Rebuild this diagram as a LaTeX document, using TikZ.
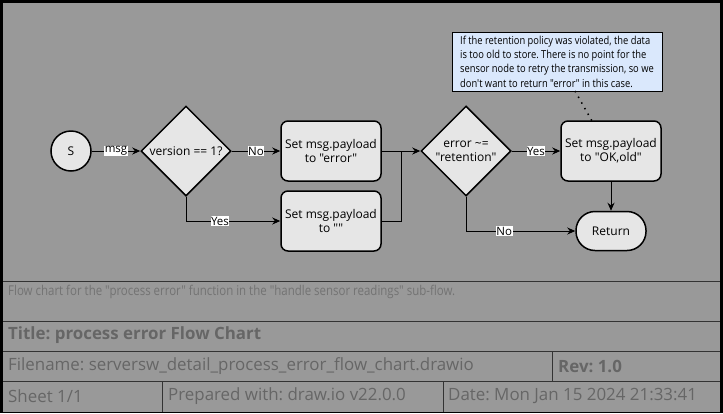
\documentclass[tikz,border=0pt]{standalone}
\usepackage{fontspec}
\setmainfont{Open Sans}[Ligatures=TeXOff]
\newfontfamily\notefont{Open Sans}[Ligatures=TeXOff, FakeStretch=0.85]
\usetikzlibrary{shapes.geometric,arrows.meta}
\definecolor{pagegray}{HTML}{999999}
\definecolor{boxgray}{HTML}{E6E6E6}
\definecolor{notebg}{HTML}{DAE8FC}
\definecolor{framegray}{HTML}{333333}
\definecolor{infogray}{HTML}{666666}
\definecolor{descgray}{HTML}{737373}
\begin{document}
\frenchspacing
\begin{tikzpicture}[x=1pt, y=-1pt,
    every node/.style={font=\fontsize{12}{14.4}\selectfont},
    box/.style={draw, line width=1.5pt, fill=boxgray, rounded corners=7pt,
      minimum width=100pt, minimum height=60pt, align=center, inner sep=0pt},
    decision/.style={draw, diamond, line width=1.5pt, fill=boxgray,
      minimum width=90pt, minimum height=90pt, inner sep=0pt},
    edge/.style={-{Stealth[length=8pt,width=7pt]}, line width=1pt},
    elabel/.style={fill=white, inner sep=0.5pt, font=\fontsize{11.5}{12}\selectfont},
    info/.style={anchor=west, text=infogray, inner sep=0pt, font=\fontsize{16.9}{19}\selectfont}]
  \useasboundingbox (0,0) rectangle (723,413);
  % page and frame
  \fill (0,0) rectangle (723,413);
  \fill[pagegray] (3,3) rectangle (720,411.5);

  % flow chart
  \node[draw, circle, line width=1.5pt, fill=boxgray, minimum size=40pt, inner sep=0pt] (start) at (71,151) {S};
  \node[decision, label={[align=center]center:version == 1?}] (vercheck) at (186,151) {};
  \node[box] (seterr) at (331,151) {Set msg.payload\\to "error"};
  \node[box] (setempty) at (331,221) {Set msg.payload\\to ""};
  \node[decision, label={[align=center]center:error \textasciitilde=\\"retention"}] (retcheck) at (466,151) {};
  \node[box] (setold) at (611,151) {Set msg.payload\\to "OK,old"};
  \node[draw, line width=1.5pt, fill=boxgray, rounded corners=19pt, minimum width=70pt, minimum height=39pt] (ret) at (611,231) {Return};
  \node[draw, fill=notebg, line width=0.8pt, minimum width=210pt, minimum height=59pt, inner sep=2pt,
    align=left, font=\notefont\fontsize{11}{14.4}\selectfont] (note) at (557,61.5)
    {If the retention policy was violated, the data\\is too old to store. There is no point for the\\sensor node to retry the transmission, so we\\don't want to return "error" in this case.};
  \coordinate (join) at (401,151);
  \coordinate (notefoot) at (575,91);
  \coordinate (oldtop) at (592,121);

  \draw[edge] (start) -- node[elabel] {msg} (vercheck);
  \draw[edge] (vercheck) -- node[elabel] {No} (seterr);
  \draw[edge] (vercheck.south) |- node[elabel, pos=0.68] {Yes} (setempty);
  \draw[edge] (seterr) -- (retcheck);
  \draw[line width=1pt] (setempty.east) -| (join);
  \draw[edge] (retcheck) -- node[elabel] {Yes} (setold);
  \draw[edge] (retcheck.south) |- node[elabel, pos=0.675] {No} (ret);
  \draw[edge] (setold) -- (ret);
  \draw[line width=1.5pt, dash pattern=on 1.5pt off 5pt] (notefoot) -- (oldtop);

  % title block
  \draw[framegray, line width=1pt] (3,281.5) -- (720,281.5) (3,321.5) -- (720,321.5)
    (3,351) -- (720,351) (3,381) -- (720,381)
    (552,351) -- (552,381) (162,381) -- (162,411.5) (443,381) -- (443,411.5);
  \node[info, text=descgray, font=\notefont\fontsize{13.5}{15}\selectfont] (desc) at (8,292)
    {Flow chart for the "process error" function in the "handle sensor readings" sub-flow.};
  \node[info, font=\bfseries\fontsize{16.9}{19}\selectfont] (title) at (8,335) {Title: process error Flow Chart};
  \node[info] (fname) at (8,366) {Filename: serversw\_detail\_process\_error\_flow\_chart.drawio};
  \node[info, font=\bfseries\fontsize{16.9}{19}\selectfont] (rev) at (558,366) {Rev: 1.0};
  \node[info] (sheet) at (8,396) {Sheet 1/1};
  \node[info] (tool) at (168,396) {Prepared with: draw.io v22.0.0};
  \node[info] (date) at (448,396) {Date: Mon Jan 15 2024 21:33:41};
\end{tikzpicture}
\end{document}
